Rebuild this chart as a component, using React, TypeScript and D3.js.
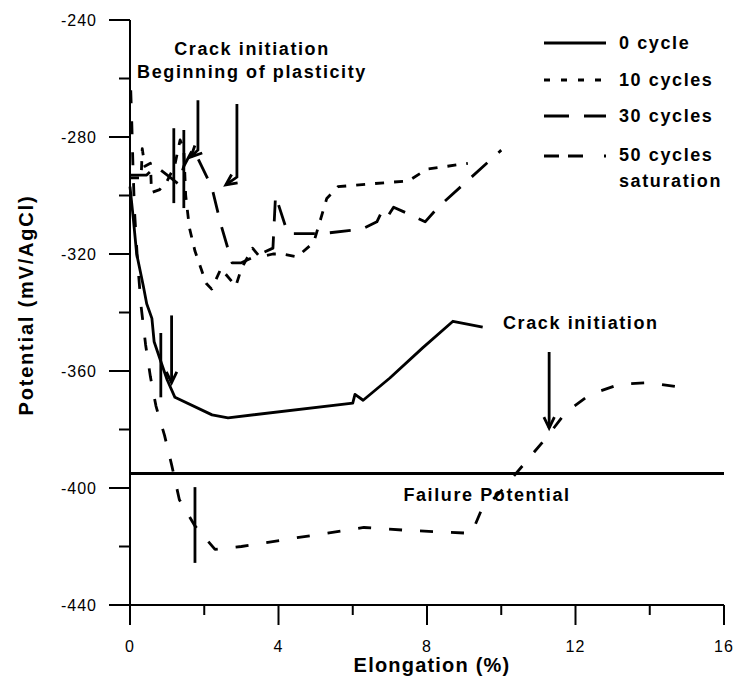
import React from 'react';
import * as d3 from 'd3';

// ---------- data ----------
const xMajorTicks = [0, 4, 8, 12, 16];
const xMinorTicks = [2, 6, 10, 14];
const yMajorTicks = [-240, -280, -320, -360, -400, -440];
const yMinorTicks = [-260, -300, -340, -380, -420];

const cycle0: [number, number][] = [
  [0, -297], [0.09, -308], [0.18, -320], [0.36, -331], [0.45, -337], [0.59, -342],
  [0.65, -350], [0.81, -356], [1.0, -363], [1.21, -369], [2.21, -375], [2.64, -376],
  [6.0, -371], [6.06, -368], [6.28, -370], [7.0, -362.4], [7.89, -352], [8.7, -343], [9.5, -345],
];

const cycle10: [number, number][] = [
  [0, -294], [0.3, -294], [0.33, -284], [0.4, -290], [0.55, -289], [0.58, -299], [0.8, -298],
  [1.0, -295], [1.2, -290], [1.35, -281], [1.45, -284], [1.5, -300], [1.6, -311], [1.75, -319],
  [2.05, -330], [2.2, -332], [2.45, -325], [2.85, -331], [3.0, -325], [3.3, -318], [3.5, -321],
  [3.85, -320], [4.1, -320], [4.5, -321], [4.95, -316], [5.3, -301], [5.6, -297], [6.5, -296],
  [7.5, -295], [8.0, -291], [9.1, -289],
];

const cycle30: [number, number][] = [
  [0, -293], [0.45, -293], [0.7, -290], [1.1, -294], [1.3, -296], [1.45, -290], [1.7, -284],
  [2.2, -297], [2.45, -310], [2.75, -323], [3.0, -323], [3.5, -320], [3.85, -318], [3.92, -300],
  [4.25, -313], [5.2, -313], [6.25, -311.5], [6.65, -309], [6.8, -305], [6.95, -307], [7.1, -304],
  [7.45, -306], [7.95, -309], [8.3, -304], [10.0, -284.5],
];

const cycle50: [number, number][] = [
  [0.02, -264], [0.05, -276], [0.08, -290], [0.12, -305], [0.2, -322], [0.3, -338], [0.42, -351],
  [0.55, -362], [0.7, -372], [0.93, -382], [1.12, -392], [1.33, -404], [1.75, -413], [2.29, -421],
  [3.0, -420], [4.5, -417], [6.3, -413.5], [7.5, -414.5], [9.2, -415.5], [9.45, -408], [10.0, -401],
  [10.6, -392], [11.2, -383], [11.75, -374], [12.4, -368], [13.2, -364.5], [14.0, -364], [15.05, -366],
];

const failurePotential = -395;

// plain vertical marker lines: [x, yTop, yBottom]
const markerLines: [number, number, number][] = [
  [1.18, -277, -302.6],
  [1.45, -277.6, -304.3],
  [0.83, -347, -369],
  [1.75, -399.7, -425.6],
];

// arrows: [x, yTop, yBend, tipX, tipY]
const arrowMarks: [number, number, number, number, number][] = [
  [1.83, -267.4, -284.4, 1.64, -286.8],
  [2.88, -268.7, -293.7, 2.58, -296.4],
  [1.12, -341, -364, 1.12, -364],
  [11.29, -353.5, -379.5, 11.29, -379.5],
];

const legendLabels = ['0 cycle', '10 cycles', '30 cycles', '50 cycles'];

// ---------- layout ----------
const W = 746;
const H = 682;
const x = d3.scaleLinear().domain([0, 16]).range([130, 724]);
const y = d3.scaleLinear().domain([-440, -240]).range([605, 20]);

const FONT = "'Liberation Sans', Arial, Helvetica, sans-serif";
const line = d3.line<[number, number]>().x(d => x(d[0])).y(d => y(d[1]));

const dash10 = '9,10';
const dash30 = '21,15';
const dash50 = '13,18';

function arrowHead(tx: number, ty: number, fx: number, fy: number, L = 12, th = 0.45) {
  const a = Math.atan2(fy - ty, fx - tx);
  const p1 = [tx + L * Math.cos(a + th), ty + L * Math.sin(a + th)];
  const p2 = [tx + L * Math.cos(a - th), ty + L * Math.sin(a - th)];
  return `M${p1[0]},${p1[1]}L${tx},${ty}L${p2[0]},${p2[1]}`;
}

export default function App() {
  const legendY = [43, 80, 116, 156];
  const legendTextY = [49, 86, 122, 161];
  const legendDash = [null, '6,11', '25,15', '15,9,15,21,4'];
  const annot = { fontFamily: FONT, fontWeight: 700, fontSize: 18, letterSpacing: 1.6 } as const;

  return (
    <svg width={W} height={H} style={{ position: 'absolute', left: 0, top: 0, background: '#fff' }}>
      <rect x={0} y={0} width={W} height={H} fill="#fff" />
      {/* axes */}
      <g stroke="#000" strokeWidth={2} fill="none">
        <line x1={x(0)} x2={x(0)} y1={y(-240)} y2={y(-440) + 20} />
        <line x1={x(0) - 21} x2={x(16)} y1={y(-440)} y2={y(-440)} />
        {yMajorTicks.map(t => (
          <line key={'ym' + t} x1={x(0) - 21} x2={x(0)} y1={y(t)} y2={y(t)} />
        ))}
        {yMinorTicks.map(t => (
          <line key={'yn' + t} x1={x(0) - 11} x2={x(0)} y1={y(t)} y2={y(t)} />
        ))}
        {xMajorTicks.map(t => (
          <line key={'xm' + t} x1={x(t)} x2={x(t)} y1={y(-440)} y2={y(-440) + 20} />
        ))}
        {xMinorTicks.map(t => (
          <line key={'xn' + t} x1={x(t)} x2={x(t)} y1={y(-440)} y2={y(-440) + 10} />
        ))}
      </g>
      {/* tick labels */}
      <g fontFamily={FONT} fontSize={16} letterSpacing={1} fill="#000">
        {yMajorTicks.map(t => (
          <text key={'yl' + t} x={97} y={y(t)} dy="0.35em" textAnchor="end">{t}</text>
        ))}
        {xMajorTicks.map(t => (
          <text key={'xl' + t} x={x(t)} y={652} textAnchor="middle">{t}</text>
        ))}
      </g>
      {/* axis titles */}
      <text x={432} y={672} textAnchor="middle" fontFamily={FONT} fontWeight={700} fontSize={20} letterSpacing={1.2}>Elongation (%)</text>
      <text transform="translate(33,305) rotate(-90)" textAnchor="middle" fontFamily={FONT} fontWeight={700} fontSize={20} letterSpacing={1.8}>Potential (mV/AgCl)</text>

      {/* failure potential */}
      <line x1={x(0)} x2={x(16)} y1={y(failurePotential)} y2={y(failurePotential)} stroke="#000" strokeWidth={3} />

      {/* curves */}
      <g fill="none" stroke="#000" strokeWidth={2.8} strokeLinejoin="round">
        <path d={line(cycle0) || ''} />
        <path d={line(cycle10) || ''} strokeDasharray={dash10} />
        <path d={line(cycle30) || ''} strokeDasharray={dash30} />
        <path d={line(cycle50) || ''} strokeDasharray={dash50} />
      </g>

      {/* markers */}
      <g fill="none" stroke="#000" strokeWidth={2.8}>
        {markerLines.map((m, i) => (
          <line key={'mk' + i} x1={x(m[0])} x2={x(m[0])} y1={y(m[1])} y2={y(m[2])} />
        ))}
        {arrowMarks.map((a, i) => {
          const sx = x(a[0]);
          const st = y(a[1]);
          const sb = y(a[2]);
          const tx = x(a[3]);
          const ty = y(a[4]);
          const bent = Math.abs(tx - sx) > 0.5;
          const shaft = bent ? `M${sx},${st}L${sx},${sb}L${tx},${ty}` : `M${sx},${st}L${sx},${sb}`;
          const head = bent ? arrowHead(tx, ty, sx, sb) : arrowHead(tx, ty, tx, ty - 10);
          return (
            <g key={'ar' + i}>
              <path d={shaft} />
              <path d={head} />
            </g>
          );
        })}
      </g>

      {/* annotations */}
      <text x={252} y={55} textAnchor="middle" {...annot}>Crack initiation</text>
      <text x={252} y={78} textAnchor="middle" {...annot}>Beginning of plasticity</text>
      <text x={503} y={329} {...annot}>Crack initiation</text>
      <text x={487} y={501} textAnchor="middle" {...annot}>Failure Potential</text>

      {/* legend */}
      <g>
        {legendLabels.map((lab, i) => (
          <g key={'lg' + i}>
            <line x1={544} x2={606} y1={legendY[i]} y2={legendY[i]} stroke="#000" strokeWidth={2.8}
              strokeDasharray={legendDash[i] || undefined} />
            <text x={619} y={legendTextY[i]} {...annot}>{lab}</text>
          </g>
        ))}
        <text x={619} y={187} {...annot}>saturation</text>
      </g>
    </svg>
  );
}
